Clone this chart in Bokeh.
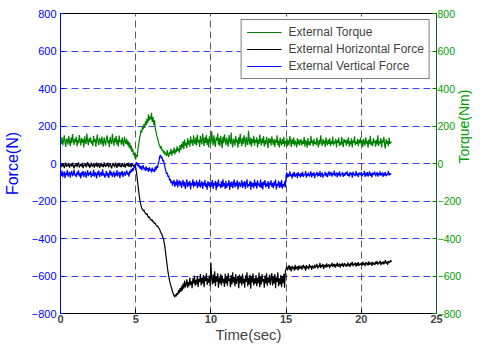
import math
from bokeh.plotting import figure
from bokeh.models import Range1d, LinearAxis, Legend, LegendItem, FixedTicker
from bokeh.embed import file_html
from bokeh.resources import INLINE

step = 0.05
torque = [
    128, 104, 141, 97, 119, 150, 112, 88, 133, 125, 101, 146, 117, 94, 138, 109, 157, 122, 99, 131,
    114, 143, 92, 126, 108, 152, 120, 96, 137, 111, 129, 86, 145, 118, 103, 160, 124, 98, 134, 115,
    140, 106, 121, 93, 148, 116, 130, 89, 127, 155, 110, 99, 136, 123, 102, 144, 113, 91, 139, 119,
    97, 132, 150, 108, 125, 87, 142, 117, 104, 158, 121, 95, 135, 112, 146, 100, 128, 90, 149, 114,
    123, 101, 138, 110, 92, 144, 119, 105, 131, 98, 120, 86, 112, 75, 96, 62, 80, 45, 58, 32,
    22, 48, 36, 75, 102, 130, 150, 178, 165, 195, 182, 210, 190, 225, 205, 238, 215, 262, 228, 250,
    235, 270, 222, 248, 205, 232, 188, 170, 150, 135, 118, 102, 95, 80, 92, 68, 75, 55, 66, 48,
    58, 40, 72, 45, 35, 62, 50, 78, 42, 68, 55, 85, 48, 74, 60, 92, 66, 80, 58, 98,
    72, 105, 84, 118, 76, 128, 95, 110, 82, 135, 100, 122, 90, 145, 108, 126, 94, 150, 115, 102,
    138, 96, 155, 112, 125, 88, 148, 118, 102, 160, 126, 92, 140, 110, 152, 99, 131, 85, 145, 120,
    105, 172, 128, 96, 150, 114, 88, 140, 122, 160, 100, 135, 92, 148, 117, 82, 142, 108, 155, 125,
    98, 138, 115, 90, 152, 124, 103, 165, 110, 86, 133, 120, 95, 147, 112, 128, 84, 140, 106, 158,
    118, 92, 136, 105, 150, 126, 88, 142, 114, 98, 175, 122, 100, 138, 90, 130, 110, 148, 95, 126,
    112, 140, 86, 128, 104, 155, 118, 96, 134, 108, 146, 90, 124, 102, 142, 116, 82, 136, 110, 130,
    95, 145, 118, 100, 132, 88, 126, 110, 150, 98, 122, 85, 138, 114, 96, 130, 105, 142, 90, 120,
    108, 135, 92, 124, 100, 146, 116, 88, 130, 104, 140, 95, 122, 110, 86, 134, 102, 128, 97, 118,
    130, 96, 120, 105, 142, 90, 125, 112, 84, 136, 100, 118, 95, 148, 108, 122, 92, 132, 104, 115,
    98, 138, 110, 86, 126, 102, 150, 115, 94, 130, 106, 122, 88, 140, 112, 97, 128, 105, 135, 92,
    120, 104, 144, 96, 118, 108, 132, 85, 124, 110, 138, 94, 115, 100, 142, 106, 88, 130, 112, 125,
    95, 128, 106, 140, 90, 118, 102, 134, 86, 122, 110, 145, 98, 116, 104, 130, 92, 126, 108, 138,
    100, 124, 88, 132, 112, 96, 140, 106, 120, 84, 128, 104, 148, 98, 116, 92, 135, 110, 122, 90,
    126, 102, 150, 94, 118, 108, 136, 86, 124, 112, 142, 98, 80, 130, 106, 120, 92, 138, 104, 116,
    110,
]
horizontal = [
    -8, -20, 2, -15, -4, -24, -10, 5, -18, -6, -13, 3, -22, -9, -1, -17, 4, -12, -26, -7,
    -14, 1, -19, -5, 6, -21, -11, -2, -16, 3, -25, -8, -13, 0, -20, -6, 7, -15, -3, -23,
    -9, 4, -17, -12, 2, -22, -5, -14, 5, -19, -7, -1, -24, -10, 3, -16, -4, -20, 6, -11,
    -18, -3, -13, 4, -21, -8, 1, -15, -26, -5, 2, -12, -19, 5, -9, -23, -2, -14, 3, -17,
    -6, -20, 2, -11, -16, 4, -22, -7, -1, -14, 5, -18, -9, -3, -21, 0, -12, -8, -17, -5,
    -20, -45, -80, -115, -150, -180, -205, -222, -238, -244, -252, -248, -260, -266, -272, -268, -280, -288, -284, -295,
    -298, -304, -300, -312, -310, -322, -318, -328, -335, -332, -342, -346, -352, -365, -372, -380, -392, -405, -425, -450,
    -485, -515, -550, -578, -602, -625, -642, -655, -668, -685, -695, -705, -712, -698, -708, -690, -700, -675, -692, -665,
    -684, -652, -678, -640, -668, -625, -660, -645, -618, -662, -632, -655, -608, -648, -628, -665, -612, -640, -598, -652,
    -620, -645, -600, -658, -615, -632, -590, -650, -610, -640, -595, -660, -605, -628, -585, -648, -612, -636, -598, -655,
    -530, -610, -645, -592, -638, -575, -655, -602, -630, -585, -662, -608, -640, -590, -650, -598, -635, -615, -658, -588,
    -640, -600, -652, -585, -628, -612, -660, -595, -645, -580, -635, -605, -655, -590, -642, -618, -600, -665, -592, -638,
    -605, -650, -588, -640, -615, -662, -598, -632, -580, -655, -610, -645, -592, -668, -600, -635, -585, -650, -612, -640,
    -595, -655, -610, -638, -582, -660, -605, -645, -590, -630, -615, -662, -598, -640, -585, -652, -608, -635, -592, -648,
    -615, -585, -650, -602, -640, -590, -665, -608, -632, -580, -655, -612, -645, -595, -660, -600, -638, -588, -662, -575,
    -562, -548, -570, -555, -542, -568, -550, -575, -546, -560, -552, -572, -540, -565, -555, -548, -570, -544, -562, -556,
    -545, -566, -552, -540, -560, -548, -572, -542, -558, -550, -564, -538, -555, -546, -568, -544, -552, -560, -540, -556,
    -548, -535, -560, -545, -552, -530, -558, -542, -550, -536, -562, -546, -540, -555, -532, -552, -544, -538, -558, -540,
    -546, -530, -552, -540, -535, -556, -538, -548, -528, -550, -542, -534, -555, -536, -546, -530, -552, -540, -532, -548,
    -538, -550, -528, -545, -536, -552, -530, -542, -525, -548, -535, -540, -528, -550, -532, -544, -526, -546, -534, -540,
    -530, -545, -524, -540, -532, -548, -526, -538, -530, -544, -522, -540, -534, -528, -546, -525, -538, -530, -542, -524,
    -535, -520, -540, -528, -532, -518, -542, -526, -536, -522, -538, -528, -515, -534, -524, -540, -520, -530, -526, -516,
    -525,
]
vertical = [
    -48, -66, -38, -72, -55, -42, -78, -50, -62, -35, -70, -57, -44, -75, -52, -40, -68, -59, -33, -64,
    -56, -73, -45, -61, -37, -69, -51, -80, -46, -63, -39, -71, -54, -43, -76, -58, -36, -67, -49, -60,
    -41, -74, -53, -65, -34, -70, -47, -58, -79, -44, -62, -38, -72, -55, -46, -68, -31, -64, -52, -75,
    -59, -40, -67, -48, -77, -54, -36, -63, -45, -71, -57, -42, -74, -50, -65, -35, -69, -53, -44, -78,
    -47, -62, -39, -72, -56, -43, -66, -51, -37, -60, -48, -70, -41, -52, -30, -45, -25, -38, -15, -22,
    -5, 8, -12, 2, -20, -8, -28, -14, -35, -18, -10, -32, -22, -40, -15, -36, -25, -45, -20, -38,
    -28, -48, -22, -42, -30, -46, -18, -35, -12, -25, 0, 15, 38, 45, 28, 35, 12, 20, -5, -22,
    -38, -55, -48, -72, -65, -90, -82, -105, -92, -118, -100, -88, -125, -98, -115, -85, -128, -102, -90, -120,
    -95, -130, -105, -88, -122, -98, -135, -110, -86, -126, -100, -118, -92, -138, -104, -115, -84, -128, -96, -120,
    -108, -90, -132, -100, -122, -86, -128, -112, -95, -136, -102, -118, -88, -125, -106, -140, -94, -120, -100, -130,
    -98, -124, -88, -135, -105, -118, -92, -142, -100, -126, -86, -120, -110, -132, -95, -128, -84, -122, -104, -136,
    -92, -130, -106, -118, -88, -140, -100, -124, -95, -132, -110, -86, -128, -102, -120, -90, -138, -108, -98, -126,
    -115, -88, -130, -100, -122, -94, -136, -106, -84, -128, -110, -118, -92, -140, -98, -124, -104, -132, -86, -120,
    -102, -134, -90, -118, -108, -126, -85, -130, -100, -138, -96, -116, -88, -128, -106, -122, -94, -135, -102, -115,
    -90, -125, -104, -132, -96, -118, -86, -138, -108, -120, -92, -130, -100, -126, -88, -134, -110, -122, -95, -128,
    -62, -48, -75, -55, -70, -42, -66, -58, -80, -50, -68, -45, -72, -60, -52, -78, -46, -65, -56, -74,
    -50, -68, -44, -72, -58, -62, -40, -76, -54, -66, -48, -70, -60, -42, -74, -52, -64, -46, -78, -56,
    -60, -45, -70, -52, -66, -40, -72, -55, -48, -75, -58, -62, -44, -68, -50, -73, -56, -42, -65, -54,
    -46, -70, -52, -62, -38, -68, -56, -48, -74, -50, -64, -42, -70, -55, -60, -45, -72, -52, -66, -48,
    -58, -42, -66, -54, -70, -46, -62, -50, -75, -44, -60, -56, -68, -40, -64, -52, -72, -48, -58, -62,
    -45, -68, -54, -60, -40, -72, -50, -64, -46, -70, -56, -42, -66, -52, -74, -48, -60, -55, -44, -68,
    -58, -46, -70, -52, -62, -42, -66, -55, -48, -72, -50, -64, -44, -68, -56, -60, -40, -65, -52, -58,
    -55,
]
time = [round(i * step, 2) for i in range(len(torque))]
x_ticks = [0, 5, 10, 15, 20, 25]
y_ticks = [-800, -600, -400, -200, 0, 200, 400, 600, 800]

FONT = "Liberation Sans"
BLUE = "#0000FF"
GREEN = "#008000"
GREEN_TXT = "#00A000"

p = figure(width=483, height=345, output_backend="svg", toolbar_location=None,
           x_range=Range1d(0, 25), y_range=Range1d(-800, 800),
           min_border_left=60, min_border_right=10, min_border_top=13, min_border_bottom=10)
p.extra_y_ranges = {"torque": Range1d(-800, 800)}
p.outline_line_color = "black"
p.outline_line_width = 1
p.background_fill_color = "white"

lh = p.line(time, horizontal, line_color="black", line_width=1.2)
lv = p.line(time, vertical, line_color=BLUE, line_width=1.2)
lt = p.line(time, torque, line_color=GREEN, line_width=1.2, y_range_name="torque")

xa = p.xaxis[0]
xa.ticker = FixedTicker(ticks=x_ticks)
xa.axis_label = "Time(sec)"
xa.axis_label_text_font = FONT
xa.axis_label_text_font_size = "15px"
xa.axis_label_text_font_style = "normal"
xa.axis_label_standoff = 0
xa.major_label_text_font = FONT
xa.major_label_text_font_size = "11px"
xa.major_label_text_font_style = "bold"
xa.major_label_standoff = 1
xa.major_tick_in = 4
xa.major_tick_out = 0
xa.minor_tick_line_color = None
xa.axis_line_color = "black"

ya = p.yaxis[0]
ya.ticker = FixedTicker(ticks=y_ticks)
ya.axis_label = "Force(N)"
ya.axis_label_text_font = FONT
ya.axis_label_text_font_size = "16px"
ya.axis_label_text_font_style = "normal"
ya.axis_label_text_color = BLUE
ya.axis_label_standoff = 8
ya.major_label_text_font = FONT
ya.major_label_text_font_size = "11px"
ya.major_label_text_color = BLUE
ya.major_label_standoff = 4
ya.major_tick_in = 4
ya.major_tick_out = 0
ya.major_tick_line_color = BLUE
ya.minor_tick_line_color = None
ya.axis_line_color = BLUE

ra = LinearAxis(y_range_name="torque", ticker=FixedTicker(ticks=y_ticks))
ra.axis_label = "Torque(Nm)"
ra.axis_label_orientation = math.pi / 2
ra.axis_label_text_font = FONT
ra.axis_label_text_font_size = "14px"
ra.axis_label_text_font_style = "normal"
ra.axis_label_text_color = GREEN_TXT
ra.axis_label_standoff = 0
ra.major_label_text_font = FONT
ra.major_label_text_font_size = "10.5px"
ra.major_label_text_color = GREEN_TXT
ra.major_label_standoff = 1
ra.major_tick_in = 4
ra.major_tick_out = 0
ra.major_tick_line_color = GREEN
ra.minor_tick_line_color = None
ra.axis_line_color = "#1A5A40"
p.add_layout(ra, "right")

p.xgrid.ticker = FixedTicker(ticks=x_ticks)
p.xgrid.grid_line_color = "#333333"
p.xgrid.grid_line_alpha = 0.8
p.xgrid.grid_line_dash = "7 4"
p.ygrid.ticker = FixedTicker(ticks=y_ticks)
p.ygrid.grid_line_color = BLUE
p.ygrid.grid_line_alpha = 0.75
p.ygrid.grid_line_dash = "7 4"

legend = Legend(items=[
    LegendItem(label="External Torque", renderers=[lt]),
    LegendItem(label="External Horizontal Force", renderers=[lh]),
    LegendItem(label="External Vertical Force", renderers=[lv]),
], location="top_right")
legend.label_text_font = FONT
legend.label_text_font_size = "12px"
legend.glyph_width = 35
legend.glyph_height = 14
legend.label_height = 14
legend.label_standoff = 7
legend.spacing = 3
legend.padding = 5
legend.margin = 6
legend.border_line_color = "black"
legend.border_line_width = 1.5
legend.background_fill_color = "white"
legend.background_fill_alpha = 1
p.add_layout(legend)

open("out.html", "w").write(file_html(p, INLINE))
